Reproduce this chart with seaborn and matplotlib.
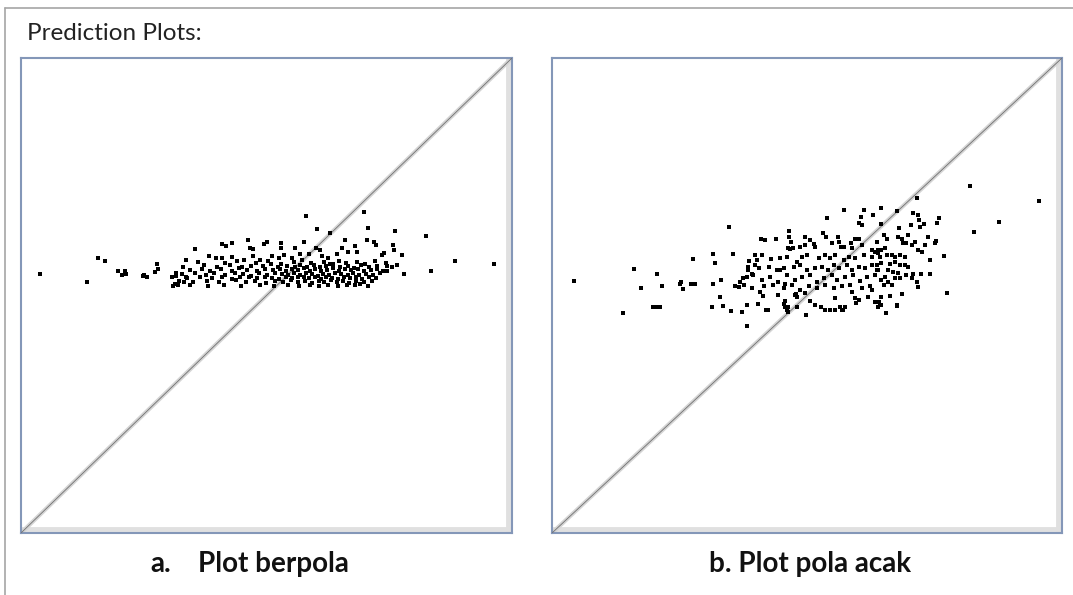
import matplotlib
matplotlib.use("Agg")
import matplotlib.pyplot as plt
import seaborn as sns
import pandas as pd
from matplotlib.lines import Line2D

# ---------------- data (actual vs predicted, 0-100 scale) ----------------
left_outliers = [
    (3.9, 54.6), (13.4, 52.9), (15.7, 58.0), (17.2, 57.3), (19.7, 55.1), (20.6, 54.3),
    (21.2, 55.2), (21.4, 54.6), (24.9, 54.1), (25.1, 54.4), (25.7, 53.9), (27.3, 55.0),
    (27.9, 55.5), (27.6, 56.7), (31.5, 54.7), (31.6, 54.2), (31.3, 52.5), (31.9, 52.2),
    (33.1, 52.8), (33.6, 53.9), (33.6, 57.4), (58.0, 66.8), (60.2, 64.0), (62.9, 63.2),
    (66.0, 61.7), (35.4, 59.7), (40.9, 60.8), (41.7, 60.5), (42.9, 61.1), (46.3, 61.7),
    (46.7, 60.1), (47.3, 59.7), (49.4, 60.9), (50.0, 61.2), (53.0, 61.0), (52.9, 60.0),
    (55.8, 59.9), (57.6, 61.2), (38.3, 58.4), (39.7, 58.0), (40.9, 57.8), (42.9, 58.1),
    (45.5, 57.5), (47.3, 58.3), (48.7, 57.5), (51.1, 58.3), (52.5, 57.8), (53.6, 58.5),
    (55.1, 57.8), (56.9, 58.7), (58.7, 58.7), (60.0, 60.1), (60.9, 59.6), (61.3, 58.4),
    (62.5, 57.8), (64.3, 58.7), (65.3, 60.1), (66.7, 59.2), (69.8, 67.6), (70.7, 64.2),
    (76.1, 63.6), (82.5, 62.6), (70.5, 61.7), (71.9, 61.2), (72.4, 60.6), (68.1, 60.4),
    (68.5, 59.2), (75.8, 60.7), (76.0, 59.6), (73.9, 59.0), (73.6, 58.5), (77.5, 58.5),
    (88.4, 57.2), (96.4, 56.7), (83.5, 55.1), (78.0, 54.6), (76.6, 56.4), (74.6, 56.2),
    (74.6, 55.1), (68.1, 52.2), (69.0, 52.5),
]
left_band = [
    (36.0, 57.1), (41.5, 56.8), (44.0, 57.3), (47.8, 56.9), (50.3, 57.2), (53.0, 56.7),
    (55.5, 57.0), (57.2, 57.4), (59.0, 56.8), (61.8, 57.1), (63.0, 56.6), (64.8, 57.3),
    (66.2, 56.9), (68.4, 57.0), (70.1, 56.7), (72.0, 57.2), (74.3, 56.9),
    (33.0, 56.0), (37.2, 56.4), (40.0, 56.1), (42.6, 56.5), (45.1, 55.9), (46.9, 56.3),
    (49.2, 56.2), (51.0, 56.6), (52.4, 55.9), (54.1, 56.3), (55.8, 56.0), (56.9, 56.5),
    (58.3, 56.1), (59.6, 56.4), (60.8, 55.9), (62.2, 56.2), (63.5, 56.6), (65.0, 56.0),
    (66.6, 56.3), (67.8, 55.8), (69.3, 56.4), (70.8, 56.1), (72.6, 56.3), (75.5, 56.0),
    (34.5, 55.3), (36.8, 55.6), (38.5, 55.2), (40.7, 55.5), (43.0, 55.1), (44.4, 55.7),
    (46.0, 55.4), (48.1, 55.2), (49.7, 55.6), (51.3, 55.3), (52.8, 55.5), (54.0, 55.1),
    (55.2, 55.6), (56.4, 55.3), (57.6, 55.7), (58.8, 55.2), (59.9, 55.5), (61.1, 55.1),
    (62.3, 55.4), (63.6, 55.7), (64.7, 55.2), (66.0, 55.5), (67.3, 55.3), (68.6, 55.6),
    (69.9, 55.2), (71.2, 55.4), (72.5, 55.6), (73.8, 55.2),
    (32.8, 54.5), (35.5, 54.8), (37.7, 54.4), (39.4, 54.7), (41.6, 54.3), (43.6, 54.8),
    (45.3, 54.5), (46.8, 54.2), (48.5, 54.7), (50.2, 54.4), (51.7, 54.8), (53.1, 54.5),
    (54.4, 54.3), (55.6, 54.7), (56.9, 54.4), (58.1, 54.8), (59.3, 54.5), (60.4, 54.2),
    (61.6, 54.6), (62.8, 54.4), (64.0, 54.8), (65.2, 54.5), (66.5, 54.3), (67.7, 54.7),
    (68.9, 54.4), (70.3, 54.6), (71.7, 54.3), (73.2, 54.7),
    (30.8, 53.8), (33.9, 53.6), (36.4, 54.0), (38.9, 53.7), (41.0, 53.9), (42.9, 53.5),
    (44.7, 53.8), (46.4, 54.0), (48.0, 53.6), (49.6, 53.9), (51.2, 53.7), (52.6, 53.5),
    (53.9, 53.9), (55.2, 53.6), (56.4, 53.8), (57.6, 54.0), (58.7, 53.6), (59.8, 53.8),
    (61.0, 53.5), (62.1, 53.9), (63.3, 53.7), (64.5, 53.5), (65.8, 53.9), (67.0, 53.6),
    (68.3, 53.8), (69.5, 53.5), (70.8, 53.9), (72.4, 53.7),
    (32.2, 53.0), (35.0, 52.8), (37.8, 53.1), (40.3, 52.9), (43.7, 53.2), (45.9, 52.8),
    (47.6, 53.0), (49.9, 52.7), (51.8, 53.1), (53.4, 52.9), (55.0, 53.2), (56.5, 52.8),
    (57.9, 53.0), (59.2, 52.7), (60.6, 53.1), (61.8, 52.9), (63.1, 53.2), (64.4, 52.8),
    (65.6, 53.0), (66.9, 52.7), (68.2, 53.1), (69.8, 52.9), (71.4, 53.0),
    (31.0, 52.1), (34.4, 52.3), (38.0, 52.0), (41.4, 52.3), (44.8, 52.1), (48.7, 52.2),
    (51.5, 51.9), (54.3, 52.3), (56.7, 52.0), (58.9, 52.2), (60.7, 51.9), (62.6, 52.3),
    (64.6, 52.0), (66.4, 52.2), (70.6, 52.1),
]

right_points = [
    # low-actual side
    (4.3, 53.0), (13.9, 46.4), (16.0, 55.5), (17.4, 51.6), (20.6, 54.5), (21.6, 51.9),
    (19.9, 47.5), (20.5, 47.5), (21.2, 47.5), (25.0, 52.4), (25.2, 52.9), (25.7, 51.3),
    (27.3, 52.5), (27.7, 52.5), (28.0, 52.5), (27.7, 57.7), (31.6, 58.8), (31.9, 56.8),
    (31.6, 52.5), (31.3, 47.5), (32.9, 49.7),
    # middle
    (34.7, 64.4), (38.3, 43.6), (57.3, 67.9), (53.9, 66.3), (61.2, 67.9), (63.0, 66.9),
    (60.5, 66.6), (60.7, 64.8), (60.1, 65.2), (41.0, 61.8), (41.8, 61.6), (43.9, 61.9),
    (46.4, 63.6), (46.5, 62.4), (46.9, 61.3), (46.2, 60.1), (46.7, 59.8), (47.3, 60.1),
    (49.7, 62.3), (50.5, 61.6), (51.4, 60.8), (53.1, 63.1), (53.7, 62.3), (56.1, 62.4),
    (56.3, 61.3), (56.7, 60.2), (58.6, 61.0), (59.4, 62.0), (60.2, 62.0), (35.5, 58.8),
    (39.9, 58.5), (41.1, 58.5), (33.1, 53.2),
    (33.6, 47.8), (35.1, 46.8), (37.2, 46.6), (38.2, 48.0), (40.8, 50.8), (41.9, 46.9),
    (42.4, 46.9), (44.4, 50.1), (45.7, 48.8), (45.6, 47.6), (46.2, 46.6), (47.6, 50.1),
    (48.0, 47.6), (49.6, 50.5), (50.6, 48.8), (51.6, 48.1), (52.7, 47.6), (49.9, 45.9),
    (53.5, 46.9), (54.5, 46.9), (55.5, 49.4), (56.5, 47.6), (56.8, 46.9), (57.5, 47.6),
    (58.8, 50.8), (59.4, 49.5), (59.7, 48.4), (60.1, 49.1), (62.0, 49.7), (62.7, 51.2),
    (63.3, 48.7), (64.0, 47.6),
    (42.9, 57.6), (44.8, 57.8), (46.1, 58.2), (48.0, 57.0), (49.1, 58.2), (50.0, 58.6),
    (52.3, 57.8), (53.6, 58.6), (54.6, 58.0), (55.5, 58.6), (57.2, 57.5), (58.2, 58.2),
    (59.5, 57.9), (61.1, 58.6), (62.7, 58.2), (64.0, 58.9),
    (38.5, 56.1), (39.8, 56.4), (40.5, 55.7), (42.5, 56.1), (44.1, 55.4), (45.4, 55.7),
    (47.4, 56.1), (48.7, 56.4), (50.0, 55.4), (51.6, 55.7), (52.9, 56.1), (54.2, 55.4),
    (55.2, 56.4), (56.3, 55.7), (57.8, 56.4), (58.8, 55.4), (60.1, 56.1), (61.4, 55.7),
    (62.7, 56.4), (63.7, 55.4),
    (36.9, 52.9), (38.2, 54.0), (39.5, 54.3), (41.2, 53.3), (42.8, 54.0), (44.4, 52.9),
    (46.1, 54.3), (47.7, 53.3), (49.0, 54.0), (50.6, 54.3), (51.9, 52.9), (53.3, 53.6),
    (54.9, 54.3), (55.9, 53.3), (57.5, 54.0), (59.1, 54.3), (60.4, 53.1), (61.8, 54.0),
    (63.3, 54.3),
    (35.9, 51.9), (37.6, 52.2), (39.2, 51.5), (41.5, 51.9), (43.4, 52.2), (45.4, 51.5),
    (47.0, 52.2), (48.7, 51.2), (50.3, 51.9), (51.9, 51.5), (53.6, 52.2), (55.2, 51.5),
    (56.9, 51.9), (58.5, 52.2), (60.8, 51.5), (62.4, 51.9),
    (48.7, 60.3), (49.7, 60.7), (51.6, 60.3), (54.9, 61.0), (57.2, 60.3), (58.8, 59.9),
    (60.8, 60.7), (62.7, 59.6), (63.7, 61.3),
    (36.7, 51.8), (37.5, 53.6), (38.4, 55.3), (39.3, 54.6), (40.4, 48.2), (41.3, 49.9),
    (44.7, 55.3), (45.7, 52.5), (47.8, 50.4), (48.1, 49.7), (38.6, 57.3), (40.1, 57.5),
    # high-actual side
    (82.0, 73.1), (95.5, 70.0), (87.7, 65.5), (82.7, 63.4), (71.5, 70.6), (64.6, 68.4),
    (67.6, 67.8), (70.7, 67.3), (71.7, 66.9), (71.9, 65.8), (75.9, 66.3), (75.4, 65.2),
    (73.0, 65.1), (72.1, 64.5), (70.3, 64.8), (68.0, 64.3), (64.6, 65.0), (73.8, 62.4),
    (75.3, 61.5), (75.1, 61.1), (76.8, 58.3), (74.2, 57.4), (74.2, 54.5), (72.4, 54.5),
    (70.7, 54.5), (71.5, 52.8), (71.7, 51.7), (77.5, 50.6), (68.6, 50.3), (66.3, 50.0),
    (64.6, 49.7), (64.1, 48.7), (64.6, 48.1), (67.6, 47.9), (65.4, 46.4),
    (65.0, 62.7), (65.6, 61.9), (67.9, 62.4), (68.6, 61.9), (68.9, 61.0), (69.9, 62.7),
    (69.5, 61.0), (70.5, 60.6), (71.2, 61.3), (71.8, 59.6), (72.5, 59.2), (73.1, 60.6),
    (63.3, 59.2), (64.0, 59.6), (64.6, 59.6), (65.3, 59.9), (64.3, 58.2), (65.6, 58.5),
    (66.6, 58.5), (67.3, 58.2), (68.2, 58.5), (69.2, 58.2), (67.3, 57.0), (66.3, 56.6),
    (64.6, 56.8), (63.7, 56.4), (68.2, 56.4), (69.2, 56.4), (69.9, 56.1), (65.9, 55.4),
    (66.9, 55.0), (67.9, 54.7), (65.3, 54.0), (64.6, 53.3), (65.9, 52.9), (67.3, 53.6),
    (68.2, 53.6), (69.5, 54.3), (70.5, 53.6), (63.3, 54.3), (64.0, 55.4), (65.0, 52.2),
    (66.6, 52.2), (57.1, 46.9), (55.5, 46.9), (67.6, 47.8), (64.3, 48.0),
    (45.4, 48.3), (46.3, 47.6), (46.0, 46.9),
]

caption_labels = ["a.", "Plot berpola", "b. Plot pola acak"]
header = "Prediction Plots:"

left_df = pd.DataFrame(left_outliers + left_band, columns=["actual", "predicted"])
right_df = pd.DataFrame(right_points, columns=["actual", "predicted"])

# ---------------- figure ----------------
sns.set_theme(style="white")
plt.rcParams["font.family"] = ["Lato", "DejaVu Sans"]

W, H = 1073, 595
fig = plt.figure(figsize=(W / 100, H / 100), dpi=100)
fig.patch.set_facecolor("white")

# outer frame (left and top edges)
fig.add_artist(Line2D([5 / W, 5 / W], [0, 1 - 8 / H], color="#a6a6a6", lw=1.2))
fig.add_artist(Line2D([5 / W, 1], [1 - 8 / H, 1 - 8 / H], color="#a6a6a6", lw=1.2))

fig.text(27 / W, 1 - 33 / H, header, fontsize=17.5, color="#222222",
         va="center", ha="left")

cap_font = dict(fontsize=20, fontweight="bold", color="#111111", va="center")

panels = [(left_df, (21, 512)), (right_df, (552, 1062))]
for df, (x0, x1) in panels:
    ax = fig.add_axes([x0 / W, 1 - 533 / H, (x1 - x0) / W, 475 / H])
    ax.set_xlim(0, 100)
    ax.set_ylim(0, 100)
    ax.set_xticks([])
    ax.set_yticks([])
    ax.set_facecolor("white")
    # shaded inner edge on right and bottom
    ax.axvline(99.2, color="#e0e0e0", lw=3.5, zorder=1)
    ax.axhline(0.8, color="#e0e0e0", lw=3.5, zorder=1)
    # diagonal reference line
    ax.plot([0, 100], [0, 100], color="#d4d4d4", lw=3.0, zorder=2,
            solid_capstyle="butt")
    ax.plot([0, 100], [0, 100], color="#707070", lw=0.6, zorder=3)
    sns.scatterplot(data=df, x="actual", y="predicted", ax=ax, marker="s",
                    s=8, color="black", linewidth=0, zorder=4, legend=False)
    ax.set_xlabel("")
    ax.set_ylabel("")
    for sp in ax.spines.values():
        sp.set_color("#8497b8")
        sp.set_linewidth(1.5)
        sp.set_visible(True)

fig.text(150 / W, 1 - 564 / H, caption_labels[0], ha="left", **cap_font)
fig.text(198 / W, 1 - 564 / H, caption_labels[1], ha="left", **cap_font)
fig.text(810 / W, 1 - 564 / H, caption_labels[2], ha="center", **cap_font)

fig.savefig("out.png", dpi=100)
